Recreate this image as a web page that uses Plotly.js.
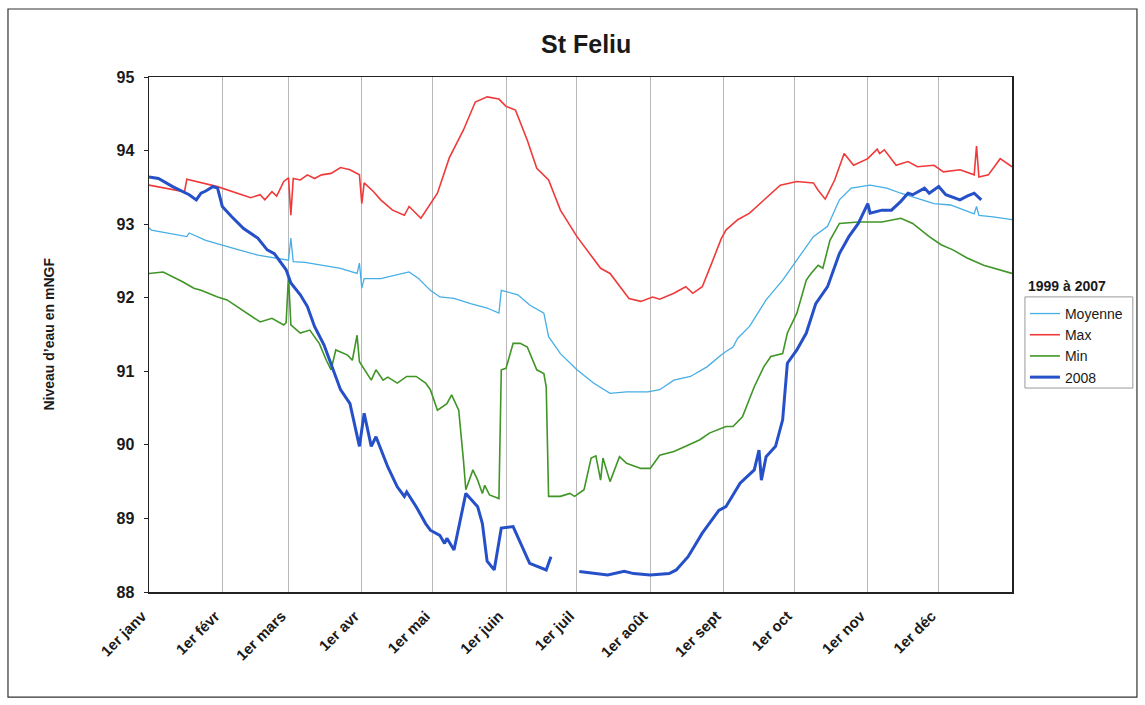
<!DOCTYPE html>
<html>
<head>
<meta charset="utf-8">
<script src="https://cdn.plot.ly/plotly-3.0.1.min.js"></script>
<style>
html,body{margin:0;padding:0;background:#fff;}
#chart{width:1145px;height:705px;}
</style>
</head>
<body>
<div id="chart"></div>
<script>
// Month ticks (day of year) and labels
const monthDays = [0,31,59,90,120,151,181,212,243,273,304,334];
const monthLabels = ["1er janv","1er févr","1er mars","1er avr","1er mai","1er juin","1er juil","1er août","1er sept","1er oct","1er nov","1er déc"];

// Moyenne 1999-2007
const moyDays = [0,1,16,17,24,31,38,46,53,59,60,61,66,74,81,88,89,90,91,98,103,110,114,119,123,129,136,143,148,149,156,161,167,169,174,181,188,195,202,211,216,222,229,236,242,244,247,249,254,261,268,281,287,292,297,305,312,318,325,332,339,346,349,350,351,357,365];
const moyVals = [92.95,92.92,92.83,92.88,92.78,92.72,92.65,92.58,92.54,92.51,92.81,92.49,92.48,92.44,92.40,92.33,92.47,92.13,92.26,92.26,92.30,92.35,92.26,92.10,92.01,91.99,91.92,91.86,91.79,92.10,92.04,91.90,91.79,91.47,91.24,91.02,90.84,90.70,90.72,90.72,90.75,90.88,90.93,91.06,91.22,91.27,91.33,91.45,91.61,91.97,92.24,92.83,92.97,93.33,93.49,93.53,93.49,93.42,93.35,93.28,93.26,93.17,93.14,93.24,93.12,93.10,93.06];

// Max 1999-2007
const maxDays = [0,15,16,29,43,47,49,52,54,57,59,60,61,64,67,70,73,77,81,85,89,90,91,95,98,103,108,110,115,119,122,127,133,138,143,148,151,155,160,164,169,174,181,191,195,203,208,213,216,222,227,230,234,238,242,244,249,254,260,267,274,281,283,286,290,294,298,304,308,309,311,316,321,325,332,336,343,349,350,351,355,360,365];
const maxVals = [93.53,93.44,93.61,93.51,93.36,93.40,93.33,93.44,93.38,93.58,93.63,93.12,93.62,93.60,93.67,93.62,93.67,93.69,93.77,93.74,93.67,93.28,93.56,93.44,93.33,93.19,93.12,93.24,93.08,93.28,93.42,93.90,94.28,94.66,94.73,94.70,94.60,94.55,94.14,93.76,93.60,93.19,92.83,92.40,92.33,91.99,91.95,92.01,91.98,92.06,92.15,92.06,92.15,92.47,92.80,92.92,93.06,93.15,93.33,93.53,93.58,93.56,93.46,93.34,93.60,93.96,93.80,93.89,94.02,93.96,94.01,93.80,93.85,93.78,93.80,93.71,93.74,93.67,94.06,93.64,93.67,93.89,93.78];

// Min 1999-2007
const minDays = [0,6,14,19,22,29,33,38,47,52,57,58,59,60,64,68,72,75,77,79,84,86,88,89,94,96,99,101,105,109,113,117,119,122,126,128,131,133,134,137,139,141,142,144,148,149,151,154,157,160,164,167,168,169,174,178,180,184,187,189,191,192,195,199,202,208,212,216,222,227,233,237,242,244,247,251,256,260,263,268,270,274,278,280,283,285,288,292,300,310,318,323,330,335,340,346,353,360,365];
const minVals = [92.33,92.35,92.22,92.13,92.10,92.01,91.97,91.86,91.67,91.72,91.63,91.66,92.30,91.63,91.52,91.56,91.38,91.15,91.02,91.29,91.22,91.15,91.49,91.13,90.88,91.02,90.88,90.92,90.84,90.93,90.93,90.84,90.75,90.47,90.56,90.68,90.47,89.79,89.39,89.66,89.52,89.34,89.45,89.32,89.27,91.02,91.04,91.38,91.38,91.33,91.02,90.97,90.79,89.30,89.30,89.34,89.30,89.39,89.82,89.85,89.52,89.82,89.50,89.84,89.75,89.68,89.68,89.86,89.91,89.98,90.07,90.16,90.22,90.25,90.25,90.38,90.79,91.06,91.20,91.24,91.52,91.79,92.24,92.33,92.44,92.40,92.78,93.01,93.03,93.03,93.08,93.01,92.83,92.72,92.65,92.54,92.44,92.38,92.33];

// 2008 (null = gap in record)
const y08Days = [0,4,10,17,20,22,24,27,29,31,35,40,46,50,53,58,60,64,67,70,74,77,81,85,89,91,94,96,101,105,108,109,113,117,119,123,125,126,129,134,139,141,143,146,149,154,161,168,170,null,182,188,194,201,205,212,220,223,228,234,241,244,250,256,258,259,261,265,268,270,274,278,282,287,292,296,300,304,305,310,314,318,321,323,325,328,330,334,337,343,346,349,352];
const y08Vals = [93.64,93.62,93.51,93.40,93.33,93.42,93.45,93.51,93.49,93.24,93.10,92.94,92.81,92.65,92.60,92.38,92.20,92.04,91.88,91.61,91.36,91.11,90.75,90.56,89.98,90.43,89.98,90.11,89.70,89.43,89.30,89.36,89.16,88.93,88.84,88.77,88.66,88.73,88.57,89.34,89.16,88.93,88.42,88.30,88.87,88.89,88.39,88.30,88.48,null,88.28,88.26,88.23,88.28,88.25,88.23,88.25,88.30,88.48,88.80,89.11,89.16,89.48,89.66,89.93,89.52,89.84,89.98,90.34,91.11,91.29,91.52,91.92,92.15,92.60,92.83,93.01,93.28,93.15,93.19,93.19,93.31,93.42,93.40,93.44,93.49,93.42,93.51,93.40,93.33,93.38,93.42,93.33];

const FONT = "Liberation Sans, Arial, sans-serif";

const traces = [
  {x: moyDays, y: moyVals, name: "Moyenne", mode: "lines", line: {color: "#45aee6", width: 1.3}},
  {x: maxDays, y: maxVals, name: "Max", mode: "lines", line: {color: "#f03a3a", width: 1.6}},
  {x: minDays, y: minVals, name: "Min", mode: "lines", line: {color: "#3f9526", width: 1.6}},
  {x: y08Days, y: y08Vals, name: "2008", mode: "lines", connectgaps: false, line: {color: "#2550c8", width: 3}}
];

const layout = {
  width: 1145, height: 705,
  paper_bgcolor: "#ffffff", plot_bgcolor: "#ffffff",
  margin: {l: 149, r: 133, t: 77, b: 113},
  font: {family: FONT, color: "#1a1a1a"},
  title: {text: "St Feliu", font: {family: FONT, size: 25, weight: "bold", color: "#1a1a1a"},
          x: 0.5066, xref: "paper", xanchor: "center", y: 0.937, yref: "container", yanchor: "middle"},
  showlegend: true,
  legend: {x: 1.015, y: 0.571, xanchor: "left", yanchor: "top",
           bgcolor: "rgba(255,255,255,0)", borderwidth: 0,
           font: {family: FONT, size: 14, color: "#1a1a1a"},
           itemwidth: 30, tracegroupgap: 0},
  xaxis: {
    range: [0, 365], tickmode: "array", tickvals: monthDays, ticktext: monthLabels,
    tickangle: -45, tickfont: {family: FONT, size: 15, weight: "bold", color: "#1a1a1a"},
    ticklabelstandoff: 8, ticklabelshift: -7,
    showgrid: true, gridcolor: "#b8b8b8", gridwidth: 1,
    showline: true, linecolor: "#222", linewidth: 1.5, mirror: true,
    ticks: "", zeroline: false, fixedrange: true
  },
  yaxis: {
    range: [88, 95], tickmode: "array", tickvals: [88,89,90,91,92,93,94,95],
    tickfont: {family: FONT, size: 16, weight: "bold", color: "#1a1a1a"},
    ticklabelstandoff: 6,
    showgrid: false, showline: true, linecolor: "#222", linewidth: 1.5, mirror: true,
    ticks: "outside", ticklen: 4, tickcolor: "#222", zeroline: false, fixedrange: true
  },
  annotations: [
    {text: "Niveau d’eau en mNGF", xref: "paper", yref: "paper", x: -0.117, y: 0.5,
     textangle: -90, showarrow: false, xanchor: "center", yanchor: "middle",
     font: {family: FONT, size: 14, weight: "bold", color: "#1a1a1a"}},
    {text: "1999 à 2007", xref: "paper", yref: "paper", x: 1.016, y: 0.594,
     showarrow: false, xanchor: "left", yanchor: "middle",
     font: {family: FONT, size: 14, weight: "bold", color: "#1a1a1a"}}
  ],
  shapes: [
    {type: "rect", xref: "paper", yref: "paper", x0: -0.1634, x1: 1.1448, y0: -0.204, y1: 1.132,
     line: {color: "#333", width: 1.2}, fillcolor: "rgba(0,0,0,0)", layer: "below"},
    {type: "rect", xref: "paper", yref: "paper", x0: 1.015, x1: 1.140, y0: 0.396, y1: 0.573,
     line: {color: "#9a9a9a", width: 1}, fillcolor: "rgba(0,0,0,0)", layer: "below"}
  ]
};

Plotly.newPlot("chart", traces, layout, {displayModeBar: false, staticPlot: true});
</script>
</body>
</html>
